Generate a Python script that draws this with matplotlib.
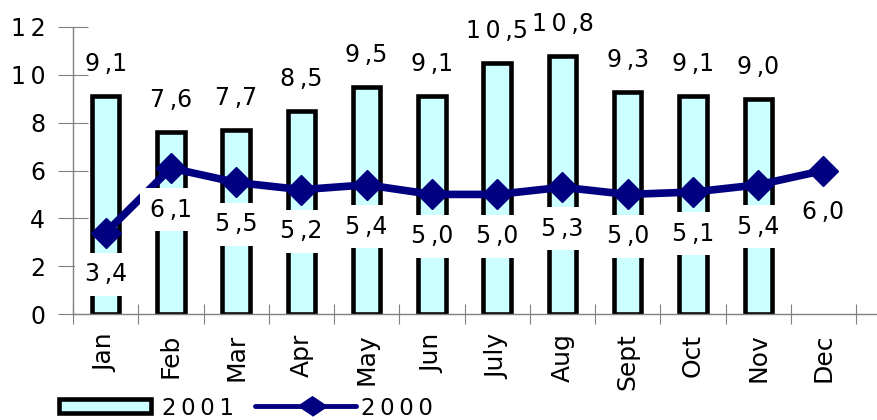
import matplotlib
matplotlib.use("Agg")
import matplotlib.pyplot as plt
from matplotlib.lines import Line2D
from matplotlib.patches import Rectangle
import numpy as np

months = ["Jan", "Feb", "Mar", "Apr", "May", "Jun", "July", "Aug", "Sept", "Oct", "Nov", "Dec"]
values_2001 = [9.1, 7.6, 7.7, 8.5, 9.5, 9.1, 10.5, 10.8, 9.3, 9.1, 9.0]
values_2000 = [3.4, 6.1, 5.5, 5.2, 5.4, 5.0, 5.0, 5.3, 5.0, 5.1, 5.4, 6.0]
y_ticks = [0, 2, 4, 6, 8, 10, 12]
series_names = ["2001", "2000"]

plt.rcParams["font.family"] = ["DejaVu Sans"]

BAR_FILL = "#ccffff"
LINE_COLOR = "#000080"
AXIS_GRAY = "#808080"
THIN = "\u2009"
W, H = 877, 420


def spaced(s):
    # wide letter spacing, as in the old spreadsheet export
    return THIN.join(s)


def fmt(v):
    whole, dec = f"{v:.1f}".split(".")
    return spaced(whole) + THIN + "," + dec


def fx(px):
    return px / W


def fy(py):
    return 1 - py / H


fig = plt.figure(figsize=(W / 100, H / 100), dpi=100)
ax = fig.add_axes([fx(73), fy(314), 1 - fx(73), fy(27) - fy(314)])

x = np.arange(len(months))
ax.bar(x[:len(values_2001)], values_2001, width=0.42, color=BAR_FILL,
       edgecolor="black", linewidth=3.3, zorder=2)
ax.plot(x, values_2000, color=LINE_COLOR, linewidth=5.5, marker="D", markersize=15,
        zorder=3)

for xi, v in zip(x, values_2001):
    ax.annotate(fmt(v), (xi, v), xytext=(0, 23), textcoords="offset points",
                ha="center", va="center", fontsize=17, zorder=4)

for xi, v in zip(x, values_2000):
    ax.annotate(fmt(v), (xi, v), xytext=(0, -30), textcoords="offset points",
                ha="center", va="center", fontsize=17, zorder=5,
                bbox=dict(boxstyle="square,pad=0.4", fc="white", ec="none"))

ax.set_ylim(0, 12)
ax.set_yticks(y_ticks)
ax.set_yticklabels([spaced(str(t)) for t in y_ticks])
ax.set_xlim(-0.5, 11.82)
ax.set_xticks(np.arange(-0.5, 12, 1))
ax.set_xticklabels([])
ax.set_xticks(x, minor=True)
ax.set_xticklabels(months, minor=True, rotation=90, fontsize=18)

for side in ("top", "right"):
    ax.spines[side].set_visible(False)
for side in ("left", "bottom"):
    ax.spines[side].set_color(AXIS_GRAY)
    ax.spines[side].set_linewidth(1)

ax.tick_params(axis="y", direction="inout", length=22, color=AXIS_GRAY,
               labelsize=17, pad=9)
ax.tick_params(axis="x", which="major", direction="inout", length=15,
               color=AXIS_GRAY)
ax.tick_params(axis="x", which="minor", length=0, pad=14)

# legend drawn by hand: short boxed swatch, longer line with a flat diamond
leg_y = 406
fig.add_artist(Rectangle((fx(59), fy(leg_y + 7)), fx(92), 14 / H,
                         transform=fig.transFigure, facecolor=BAR_FILL,
                         edgecolor="black", linewidth=3.3))
fig.text(fx(162), fy(leg_y), spaced(series_names[0]), fontsize=16.5,
         ha="left", va="center_baseline")
fig.add_artist(Line2D([fx(255), fx(356)], [fy(leg_y), fy(leg_y)],
                      transform=fig.transFigure, color=LINE_COLOR, linewidth=3.5,
                      solid_capstyle="round"))
fig.add_artist(Line2D([fx(312)], [fy(leg_y)], transform=fig.transFigure,
                      marker=[(-1.5, 0), (0, 1), (1.5, 0), (0, -1)], markersize=21,
                      color=LINE_COLOR, linestyle="none"))
fig.text(fx(361), fy(leg_y), spaced(series_names[1]), fontsize=16.5,
         ha="left", va="center_baseline")

fig.savefig("out.png", dpi=100)
